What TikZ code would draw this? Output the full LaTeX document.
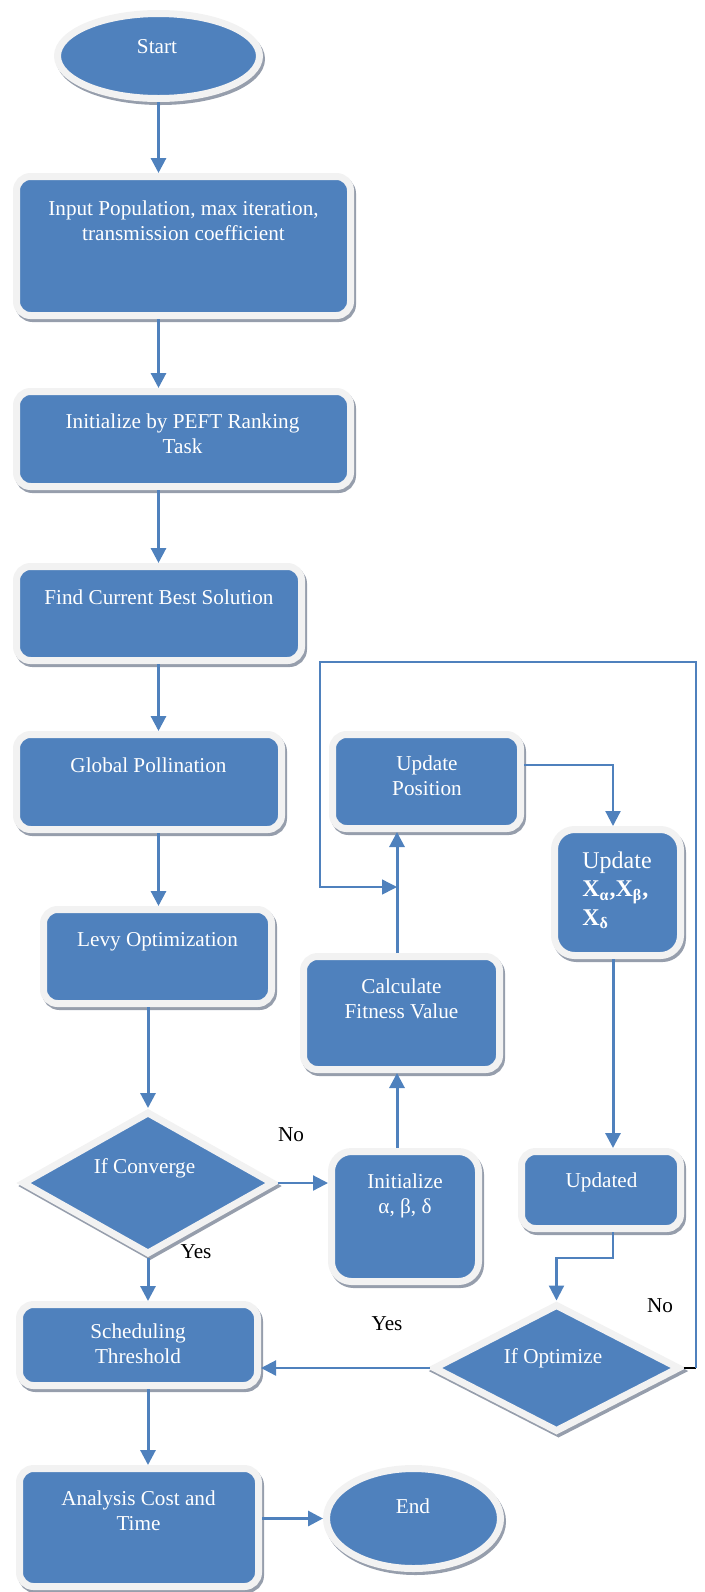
\documentclass[tikz,border=0pt]{standalone}
\usepackage{fontspec}
\setmainfont{Liberation Serif}
\usetikzlibrary{shapes.geometric,arrows.meta}
\definecolor{accent}{RGB}{79,129,189}
\definecolor{ringgray}{RGB}{242,242,242}
\definecolor{shadowgray}{RGB}{150,158,172}
\newcommand\fsmain{\fontsize{10.6pt}{12.5pt}\selectfont}
\newcommand\fsbig{\fontsize{12pt}{14.25pt}\selectfont}
\begin{document}
\begin{tikzpicture}[x=0.5pt,y=-0.5pt,
  shapebase/.style={fill=accent, draw=ringgray, line width=3.5pt, inner sep=0pt,
    preaction={fill=shadowgray, draw=shadowgray, line width=3.5pt,
      transform canvas={xshift=1pt,yshift=-1.5pt}}},
  box/.style={shapebase, rectangle, rounded corners=7pt},
  bigbox/.style={shapebase, rectangle, rounded corners=10pt},
  ell/.style={shapebase, ellipse},
  dia/.style={shapebase, diamond},
  txt/.style={text=white, font=\fsmain, align=center, inner sep=0pt, anchor=north},
  lbl/.style={text=black, font=\fsmain, inner sep=0pt, anchor=north},
  tip/.style={-{Triangle[width=7.5pt,length=7.5pt]}},
  arr/.style={draw=accent, line width=1.5pt, tip},
  arrthin/.style={draw=accent, line width=1.1pt, tip},
  loopline/.style={draw=accent, line width=0.75pt, tip}]
\useasboundingbox (0,0) rectangle (705,1592);

% shapes
\node[ell, minimum width=101pt, minimum height=42.5pt] (start) at (158.5,56) {};
\node[box, minimum width=167pt, minimum height=69.5pt] (input) at (183.5,246) {};
\node[box, minimum width=167pt, minimum height=47.5pt] (peft) at (183.5,439) {};
\node[box, minimum width=142.5pt, minimum height=47pt] (find) at (159,613.5) {};
\node[box, minimum width=132.5pt, minimum height=47.5pt] (global) at (149,782) {};
\node[box, minimum width=114pt, minimum height=47pt] (levy) at (157.5,956.5) {};
\node[dia, minimum width=126pt, minimum height=71.5pt] (conv) at (148,1183) {};
\node[box, minimum width=119pt, minimum height=40.5pt] (sched) at (138.5,1345) {};
\node[box, minimum width=119.5pt, minimum height=59pt] (analysis) at (139,1527.5) {};
\node[ell, minimum width=87pt, minimum height=50pt] (end) at (413.5,1518.5) {};
\node[box, minimum width=94pt, minimum height=47pt] (updpos) at (426.5,781.5) {};
\node[box, minimum width=98pt, minimum height=56.5pt] (calc) at (401.5,1013) {};
\node[bigbox, minimum width=73.5pt, minimum height=65pt] (init) at (405,1216.5) {};
\node[bigbox, minimum width=63pt, minimum height=63pt] (updx) at (617.5,892.5) {};
\node[box, minimum width=79.5pt, minimum height=38.5pt] (updated) at (601,1190) {};
\node[dia, minimum width=123.5pt, minimum height=64pt] (opt) at (556.5,1368) {};

% texts
\node[txt] (t-start) at (157,35.5) {\strut Start};
\node[txt] (t-input) at (183.5,197.5) {\strut Input Population, max iteration,\\\strut transmission coefficient};
\node[txt] (t-peft) at (182.5,410.5) {\strut Initialize by PEFT Ranking\\\strut Task};
\node[txt] (t-find) at (159,586.5) {\strut Find Current Best Solution};
\node[txt] (t-global) at (148.5,754.5) {\strut Global Pollination};
\node[txt] (t-levy) at (157.5,928.5) {\strut Levy Optimization};
\node[txt] (t-conv) at (144.5,1155.5) {\strut If Converge};
\node[txt] (t-sched) at (138,1320.5) {\strut Scheduling\\\strut Threshold};
\node[txt] (t-analysis) at (138.5,1487.5) {\strut Analysis Cost and\\\strut Time};
\node[txt] (t-end) at (413,1495.5) {\strut End};
\node[txt] (t-updpos) at (427,752.5) {\strut Update\\\strut Position};
\node[txt] (t-calc) at (401.5,975.5) {\strut Calculate\\\strut Fitness Value};
\node[txt] (t-init) at (405,1170.5) {\strut Initialize\\\strut α, β, δ};
\node[txt] (t-updated) at (601.5,1169.5) {\strut Updated};
\node[txt, font=\fsbig, align=left, anchor=north west] (t-updx) at (582,848)
  {\strut Update\\\strut\textbf{X\textsubscript{α},X\textsubscript{β},}\\\strut\textbf{X\textsubscript{δ}}};
\node[txt] (t-opt) at (553,1345.5) {\strut If Optimize};

% labels
\node[lbl] (l-no1) at (291,1123.5) {\strut No};
\node[lbl] (l-yes1) at (196,1240.5) {\strut Yes};
\node[lbl] (l-yes2) at (387,1312.5) {\strut Yes};
\node[lbl] (l-no2) at (660,1294.5) {\strut No};

% helper coordinates
\coordinate (col) at (397,0);
\coordinate (jn) at (397,887);
\coordinate (loopR) at (696,662);
\coordinate (loopL) at (320,662);
\coordinate (bend) at (0,1258);

% connectors
\draw[arr] (start.south) -- (start.south |- input.north);
\draw[arr] (input.south -| start.south) -- (peft.north -| start.south);
\draw[arr] (peft.south -| start.south) -- (find.north -| start.south);
\draw[arr] (find.south -| start.south) -- (global.north -| start.south);
\draw[arr] (global.south -| start.south) -- (levy.north -| start.south);
\draw[arr] (levy.south -| conv.north) -- (conv.north);
\draw[arr] (conv.south) -- (conv.south |- sched.north);
\draw[arr] (sched.south -| conv.south) -- (analysis.north -| conv.south);
\draw[arr] (end.west -| analysis.east) -- (end.west);
\draw[arrthin] (conv.east) -- (conv.east -| init.west);
\draw[arr] (col |- init.north) -- (col |- calc.south);
\draw[arr] (col |- calc.north) -- (col |- updpos.south);
\draw[arrthin] ([yshift=8.25pt]updpos.east) -| ([xshift=-2.25pt]updx.north);
\draw[arr] ([xshift=-2.25pt]updx.south) -- ([xshift=-2.25pt]updx.south |- updated.north);
\draw[arrthin] ([xshift=-2.25pt]updx.south |- updated.south) |- (bend -| opt.north) -- (opt.north);
\draw[arrthin] (opt.west) -- (opt.west -| sched.east);
\draw[black, line width=0.9pt] (opt.east) -- (opt.east -| loopR);
\draw[loopline] (opt.east -| loopR) -- (loopR) -- (loopL) -- (loopL |- jn) -- (jn);
\end{tikzpicture}
\end{document}
